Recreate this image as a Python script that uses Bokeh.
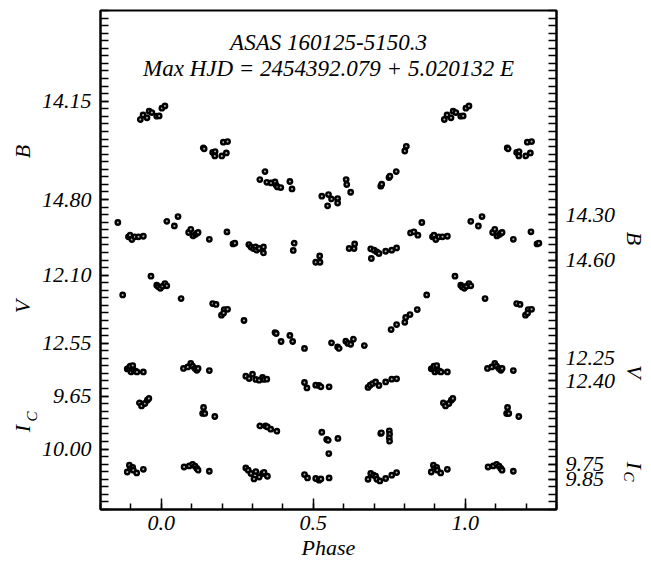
import json
import numpy as np
from bokeh.plotting import figure
from bokeh.layouts import row
from bokeh.models import (Range1d, LinearAxis, FixedTicker, CustomJSTickFormatter,
                          PrintfTickFormatter, Label, ColumnDataSource)
from bokeh.embed import file_html
from bokeh.resources import INLINE

TITLE1 = "ASAS 160125-5150.3"
TITLE2 = "Max HJD = 2454392.079 + 5.020132 E"
X_LABEL = "Phase"

# ---------------- data (phase in [0,1), magnitude) ----------------
b_left_phase = [0.931, 0.940, 0.953, 0.960, 0.969, 0.985, 0.993, 0.002, 0.012,
                0.138, 0.141, 0.169, 0.177, 0.176, 0.199, 0.204, 0.214, 0.218,
                0.324, 0.341, 0.347, 0.361, 0.374, 0.378, 0.382, 0.393, 0.423, 0.430,
                0.528, 0.550, 0.547, 0.560, 0.580, 0.580, 0.608, 0.610, 0.623,
                0.722, 0.725, 0.749, 0.752, 0.773, 0.801, 0.806]
b_left_mag = [14.271, 14.241, 14.260, 14.216, 14.225, 14.249, 14.247, 14.196, 14.181,
              14.459, 14.465, 14.489, 14.483, 14.512, 14.512, 14.421, 14.492, 14.417,
              14.668, 14.615, 14.686, 14.690, 14.684, 14.706, 14.717, 14.721, 14.681, 14.730,
              14.778, 14.767, 14.842, 14.796, 14.794, 14.823, 14.668, 14.701, 14.752,
              14.712, 14.699, 14.655, 14.646, 14.615, 14.479, 14.448]

b_right_phase = [0.018, 0.043, 0.055, 0.090, 0.097, 0.104, 0.112, 0.117, 0.121, 0.158,
                 0.216, 0.236, 0.242, 0.288, 0.295, 0.303, 0.310, 0.313, 0.322, 0.336, 0.336,
                 0.434, 0.437, 0.508, 0.522, 0.521, 0.618, 0.634, 0.636,
                 0.689, 0.691, 0.700, 0.709, 0.716, 0.738, 0.758, 0.774,
                 0.820, 0.831, 0.844, 0.857, 0.892, 0.897, 0.903, 0.913, 0.925, 0.941]
b_right_mag = [14.344, 14.375, 14.313, 14.418, 14.397, 14.441, 14.432, 14.423, 14.418, 14.463,
               14.414, 14.494, 14.489, 14.498, 14.514, 14.524, 14.514, 14.535, 14.524, 14.514, 14.553,
               14.537, 14.489, 14.615, 14.615, 14.573, 14.524, 14.524, 14.494,
               14.526, 14.590, 14.535, 14.547, 14.557, 14.542, 14.535, 14.520,
               14.421, 14.414, 14.436, 14.352, 14.447, 14.436, 14.465, 14.447, 14.447, 14.443]

v_left_phase = [0.966, 0.985, 0.990, 0.997, 0.004, 0.012, 0.018, 0.065,
                0.169, 0.180, 0.198, 0.207, 0.205, 0.218, 0.272,
                0.374, 0.378, 0.394, 0.423, 0.432, 0.471,
                0.560, 0.580, 0.585, 0.607, 0.614, 0.623, 0.632, 0.668,
                0.756, 0.774, 0.801, 0.804, 0.818, 0.842, 0.873]
v_left_mag = [12.107, 12.167, 12.178, 12.187, 12.173, 12.156, 12.171, 12.255,
              12.288, 12.294, 12.365, 12.328, 12.350, 12.326, 12.400,
              12.480, 12.486, 12.539, 12.499, 12.539, 12.585,
              12.548, 12.575, 12.585, 12.537, 12.552, 12.557, 12.524, 12.566,
              12.460, 12.427, 12.412, 12.380, 12.361, 12.328, 12.231]

v_right_phase = [0.073, 0.087, 0.097, 0.103, 0.111, 0.117, 0.121, 0.158,
                 0.278, 0.289, 0.300, 0.311, 0.322, 0.333, 0.338, 0.347,
                 0.471, 0.479, 0.508, 0.519, 0.525, 0.552,
                 0.680, 0.687, 0.695, 0.705, 0.716, 0.738, 0.758, 0.774,
                 0.888, 0.894, 0.897, 0.900, 0.906, 0.909, 0.915, 0.920, 0.941]
v_right_mag = [12.317, 12.307, 12.284, 12.302, 12.317, 12.329, 12.317, 12.331,
               12.368, 12.384, 12.355, 12.390, 12.395, 12.377, 12.390, 12.388,
               12.410, 12.446, 12.428, 12.430, 12.439, 12.439,
               12.443, 12.428, 12.417, 12.406, 12.430, 12.406, 12.388, 12.386,
               12.320, 12.317, 12.302, 12.340, 12.298, 12.329, 12.335, 12.340, 12.340]

ic_left_phase = [0.928, 0.935, 0.946, 0.954, 0.959,
                 0.139, 0.136, 0.143, 0.176,
                 0.324, 0.343, 0.349, 0.360, 0.380,
                 0.528, 0.544, 0.549, 0.551, 0.581,
                 0.722, 0.724, 0.750, 0.751, 0.750, 0.751]
ic_left_mag = [9.695, 9.715, 9.699, 9.677, 9.666,
               9.725, 9.765, 9.765, 9.785,
               9.847, 9.847, 9.854, 9.869, 9.882,
               9.889, 9.937, 9.942, 10.030, 9.930,
               9.897, 9.893, 9.880, 9.902, 9.926, 9.948]

ic_right_phase = [0.075, 0.092, 0.103, 0.111, 0.117, 0.121, 0.158,
                  0.278, 0.286, 0.295, 0.305, 0.311, 0.322, 0.333, 0.338, 0.349,
                  0.471, 0.481, 0.508, 0.519, 0.525, 0.552,
                  0.680, 0.689, 0.698, 0.705, 0.709, 0.719, 0.738, 0.758, 0.774,
                  0.888, 0.895, 0.899, 0.906, 0.908, 0.919, 0.941]
ic_right_mag = [9.769, 9.762, 9.751, 9.764, 9.779, 9.790, 9.797,
                9.775, 9.790, 9.812, 9.848, 9.799, 9.835, 9.812, 9.804, 9.830,
                9.819, 9.841, 9.845, 9.856, 9.848, 9.841,
                9.850, 9.812, 9.823, 9.830, 9.850, 9.861, 9.845, 9.823, 9.806,
                9.802, 9.757, 9.779, 9.772, 9.790, 9.808, 9.784]

# axis tick labels of each band
b_left_ticks = [14.15, 14.80]
v_left_ticks = [12.10, 12.55]
ic_left_ticks = [9.65, 10.00]
b_right_ticks = [14.30, 14.60]
v_right_ticks = [12.25, 12.40]
ic_right_ticks = [9.75, 9.85]

# ---------------- layout constants ----------------
H = 569
LEFT_W, RIGHT_W = 38, 33
MAIN_W = 651 - LEFT_W - RIGHT_W
BORDER_TOP, BORDER_BOTTOM = 10, 60
STEP = 0.05            # magnitude per minor tick (same scale for all bands)
TOP_MAIN = 13.55       # main (left-B) coordinate at the top of the frame
SPAN = 3.30            # magnitudes covered by the frame height
# top of frame expressed in each band's own magnitude
band_top = {"bl": 13.55, "br": 12.95, "vl": 10.35, "vr": 9.95, "il": 7.10, "ir": 6.75}

FONT = "Liberation Serif"


def main_range():
    return Range1d(TOP_MAIN + SPAN, TOP_MAIN)


p = figure(width=MAIN_W, height=H, output_backend="svg", toolbar_location=None,
           x_range=Range1d(-0.2, 1.3), y_range=main_range(),
           min_border_left=100 - LEFT_W, min_border_right=MAIN_W - (100 - LEFT_W) - 456,
           min_border_top=BORDER_TOP, min_border_bottom=BORDER_BOTTOM)
p.background_fill_color = "white"
p.border_fill_color = "white"
p.outline_line_color = "black"
p.outline_line_width = 2
p.xgrid.visible = False
p.ygrid.visible = False

for k, top in band_top.items():
    p.extra_y_ranges[k] = Range1d(top + SPAN, top)


def offset(k):
    return TOP_MAIN - band_top[k]


def fold(ph, mag):
    ph = np.asarray(ph, dtype=float)
    mag = np.asarray(mag, dtype=float)
    xs = np.concatenate([ph - 1.0, ph, ph + 1.0])
    ys = np.concatenate([mag, mag, mag])
    keep = (xs >= -0.15) & (xs <= 1.25)
    return xs[keep], ys[keep]


series = [("bl", b_left_phase, b_left_mag), ("br", b_right_phase, b_right_mag),
          ("vl", v_left_phase, v_left_mag), ("vr", v_right_phase, v_right_mag),
          ("il", ic_left_phase, ic_left_mag), ("ir", ic_right_phase, ic_right_mag)]
for k, ph, mg in series:
    xs, ys = fold(ph, mg)
    src = ColumnDataSource(dict(x=xs, y=ys))
    p.scatter("x", "y", source=src, y_range_name=k, marker="circle", size=4.4,
              fill_color="#b0b0b0", line_color="black", line_width=2.4)

# ---------------- axes ----------------
minor = [round(TOP_MAIN + i * STEP, 2) for i in range(int(round(SPAN / STEP)) + 1)]


def axis_map(groups):
    m = {}
    for k, vals in groups:
        for v in vals:
            m[f"{v + offset(k):.2f}"] = f"{v:.2f}"
    return m


left_map = axis_map([("bl", b_left_ticks), ("vl", v_left_ticks), ("il", ic_left_ticks)])
right_map = axis_map([("br", b_right_ticks), ("vr", v_right_ticks), ("ir", ic_right_ticks)])


def style_y(ax, mp):
    ax.ticker = FixedTicker(ticks=[float(k) for k in mp.keys()], minor_ticks=minor)
    ax.formatter = CustomJSTickFormatter(
        code="const m = " + json.dumps(mp) + "; return m[tick.toFixed(2)] || '';")
    ax.major_tick_in = 8
    ax.major_tick_out = 0
    ax.minor_tick_in = 8
    ax.minor_tick_out = 0
    ax.axis_line_width = 2
    ax.major_tick_line_width = 1.5
    ax.minor_tick_line_width = 1.5
    ax.major_label_standoff = 9
    ax.major_label_text_font = FONT
    ax.major_label_text_font_style = "italic"
    ax.major_label_text_font_size = "22px"
    ax.major_label_text_color = "black"


style_y(p.yaxis[0], left_map)
right_axis = LinearAxis()
p.add_layout(right_axis, "right")
style_y(right_axis, right_map)

xa = p.xaxis[0]
xa.ticker = FixedTicker(ticks=[0.0, 0.5, 1.0],
                        minor_ticks=[round(-0.2 + 0.1 * i, 1) for i in range(16)])
xa.formatter = PrintfTickFormatter(format="%.1f")
xa.major_tick_in = 11
xa.major_tick_out = 0
xa.minor_tick_in = 6
xa.minor_tick_out = 0
xa.axis_line_width = 2
xa.major_tick_line_width = 1.5
xa.minor_tick_line_width = 1.5
xa.major_label_standoff = 6
xa.major_label_text_font = FONT
xa.major_label_text_font_style = "italic"
xa.major_label_text_font_size = "22px"
xa.major_label_text_color = "black"
xa.axis_label = X_LABEL
xa.axis_label_text_font = FONT
xa.axis_label_text_font_style = "italic"
xa.axis_label_text_font_size = "22px"
xa.axis_label_text_color = "black"
xa.axis_label_standoff = 2


# ---------------- texts ----------------
def add_label(fig, x, y, text, size="22px", angle=0.0):
    fig.add_layout(Label(x=x, y=y, x_units="data", y_units="data", text=text,
                         text_font=FONT, text_font_style="italic", text_font_size=size,
                         text_align="center", text_baseline="middle", angle=angle,
                         text_color="black"))


add_label(p, 0.55, 13.762, TITLE1, size="23px")
add_label(p, 0.55, 13.936, TITLE2, size="23px")


def side_fig(w):
    f = figure(width=w, height=H, output_backend="svg", toolbar_location=None,
               x_axis_type=None, y_axis_type=None,
               x_range=Range1d(0, w), y_range=main_range(),
               min_border_left=0, min_border_right=0,
               min_border_top=BORDER_TOP, min_border_bottom=BORDER_BOTTOM)
    f.outline_line_color = None
    f.background_fill_color = "white"
    f.border_fill_color = "white"
    f.xgrid.visible = False
    f.ygrid.visible = False
    return f


left_f = side_fig(LEFT_W)
add_label(left_f, 22, 14.483, "B", angle=np.pi / 2)
add_label(left_f, 22, 15.508, "V", angle=np.pi / 2)
add_label(left_f, 22, 16.315, "I", angle=np.pi / 2)
add_label(left_f, 31, 16.235, "C", size="15px", angle=np.pi / 2)

right_f = side_fig(RIGHT_W)
add_label(right_f, 15.5, 15.058, "B", angle=-np.pi / 2)
add_label(right_f, 15.5, 15.938, "V", angle=-np.pi / 2)
add_label(right_f, 16, 16.559, "I", angle=-np.pi / 2)
add_label(right_f, 10, 16.632, "C", size="15px", angle=-np.pi / 2)

layout = row(left_f, p, right_f)
open("out.html", "w").write(file_html(layout, INLINE))
